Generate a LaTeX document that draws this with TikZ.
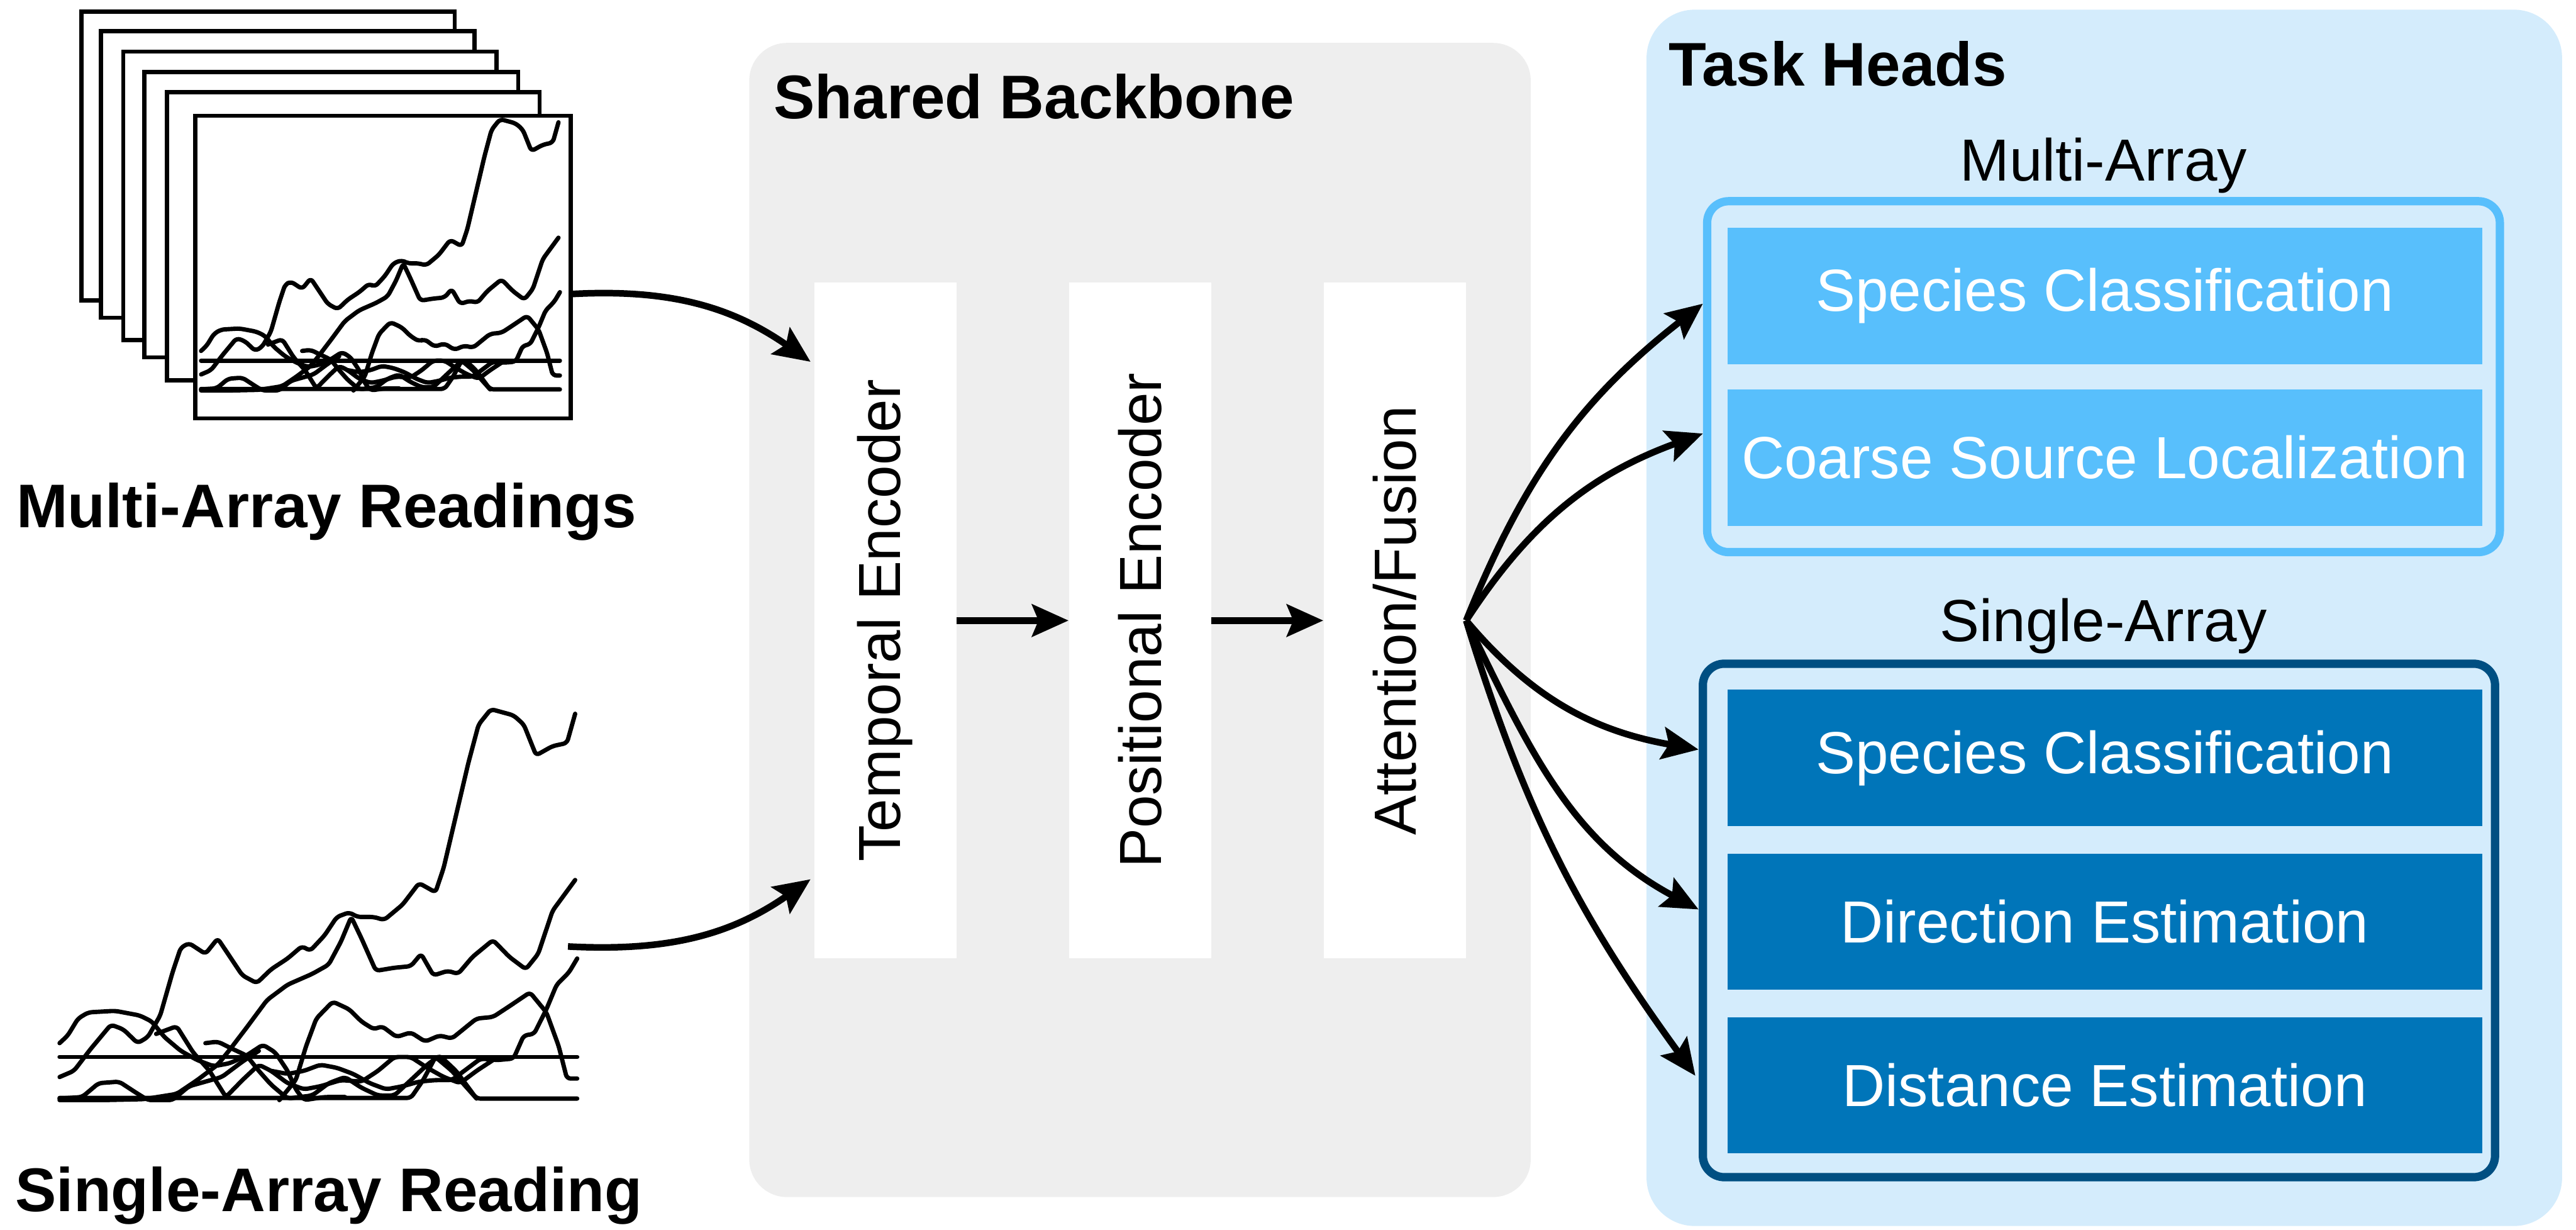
\documentclass[tikz,border=0pt]{standalone}
\usepackage{fontspec}
\usepackage{graphicx}
\setmainfont{Liberation Sans}
\usetikzlibrary{arrows.meta}

\definecolor{backbonegray}{HTML}{EEEEEE}
\definecolor{headbg}{HTML}{D4ECFC}
\definecolor{multiblue}{HTML}{58BFFC}
\definecolor{singleedge}{HTML}{004F82}
\definecolor{singleblue}{HTML}{0075B9}

\tikzset{
  lbl/.style={font=\fontsize{31.5}{36}\selectfont, inner sep=0pt},
  boldlbl/.style={font=\fontsize{32.7}{38}\selectfont\bfseries, inner sep=0pt},
  encoder/.style={fill=white, draw=none, minimum width=2.65cm, minimum height=12.59cm,
    inner sep=0pt, font=\fontsize{31.5}{36}\selectfont},
  headbox/.style={draw=none, minimum width=14.07cm, minimum height=2.54cm, inner sep=0pt,
    text=white, font=\fontsize{31.5}{36}\selectfont},
  groupbox/.style={fill=headbg, line width=4.4pt, rounded corners=0.4cm},
  flow/.style={line width=3.5pt, -{Stealth[length=0.68cm, width=0.6cm, inset=0.12cm]}},
  sheet/.style={draw=black, line width=2.2pt, fill=white},
  trace/.style={line width=2.3pt, line join=round, line cap=round, rounded corners=2pt},
}

% sensor traces, in local plot units (x right, y down)
\newcommand{\readingtraces}{%
  \draw[trace] (145,1255) -- (1405,1255);
  \draw[trace] (145,1388) -- (1000,1388) -- (1030,1330) -- (1060,1255) -- (1100,1300) -- (1160,1390);
  \draw[trace] (145,1320) -- (180,1300) -- (220,1230) -- (270,1150) -- (300,1165) -- (335,1210)
    -- (360,1190) -- (390,1120) -- (420,980) -- (440,900) -- (460,885) -- (500,920) -- (530,870)
    -- (560,930) -- (590,990) -- (625,1015) -- (660,970) -- (700,935) -- (735,895) -- (755,910)
    -- (790,860) -- (820,800) -- (850,785) -- (870,800) -- (910,800) -- (935,810) -- (980,760)
    -- (1020,690) -- (1060,720) -- (1080,640) -- (1110,470) -- (1140,300) -- (1165,175)
    -- (1195,125) -- (1250,145) -- (1275,175) -- (1305,275) -- (1345,245) -- (1380,235) -- (1400,140);
  \draw[trace] (145,1395) -- (250,1395) -- (350,1392) -- (430,1375) -- (480,1330) -- (530,1280)
    -- (560,1230) -- (600,1160) -- (650,1070) -- (700,1020) -- (760,985) -- (800,955) -- (830,880)
    -- (855,800) -- (880,870) -- (915,975) -- (960,965) -- (1000,960) -- (1025,920) -- (1055,990)
    -- (1090,975) -- (1115,985) -- (1150,930) -- (1200,875) -- (1240,930) -- (1280,970)
    -- (1310,920) -- (1345,780) -- (1400,680);
  \draw[trace] (680,1395) -- (720,1330) -- (745,1220) -- (770,1130) -- (810,1075) -- (850,1100)
    -- (880,1140) -- (910,1165) -- (930,1155) -- (965,1190) -- (1000,1175) -- (1035,1205)
    -- (1070,1185) -- (1100,1195) -- (1160,1130) -- (1200,1125) -- (1240,1090) -- (1290,1045)
    -- (1330,1110) -- (1360,1220) -- (1380,1325) -- (1405,1325);
  \draw[trace] (660,1300) -- (700,1310) -- (740,1300) -- (780,1280) -- (820,1290) -- (860,1310)
    -- (900,1340) -- (940,1360) -- (980,1350) -- (1020,1335) -- (1060,1330) -- (1100,1330)
    -- (1130,1300) -- (1170,1260) -- (1210,1265) -- (1250,1260) -- (1275,1185) -- (1300,1180)
    -- (1330,1100) -- (1355,1020) -- (1385,980) -- (1405,935);
  \draw[trace] (145,1210) -- (165,1185) -- (190,1130) -- (215,1110) -- (280,1105) -- (340,1120)
    -- (370,1140) -- (400,1190) -- (440,1235) -- (480,1265) -- (520,1285) -- (560,1275)
    -- (600,1250) -- (640,1215) -- (670,1240) -- (700,1300) -- (720,1360) -- (740,1395)
    -- (790,1385) -- (840,1385);
  \draw[trace] (145,1390) -- (200,1385) -- (240,1340) -- (290,1335) -- (330,1370) -- (360,1395)
    -- (420,1395) -- (460,1350) -- (500,1335) -- (540,1320) -- (590,1270) -- (630,1235);
  \draw[trace] (380,1180) -- (430,1155) -- (470,1240) -- (510,1300) -- (550,1385) -- (590,1330)
    -- (630,1280) -- (660,1300) -- (700,1340) -- (740,1360) -- (780,1350) -- (830,1330)
    -- (880,1335) -- (920,1300) -- (960,1255) -- (1000,1255) -- (1040,1290) -- (1080,1320)
    -- (1120,1340) -- (1160,1300) -- (1200,1265);
  \draw[trace] (500,1210) -- (530,1205) -- (560,1225) -- (600,1250) -- (630,1300) -- (660,1345)
    -- (700,1390) -- (760,1380) -- (800,1340) -- (840,1320) -- (880,1355) -- (920,1380)
    -- (960,1380) -- (1000,1330) -- (1040,1280) -- (1070,1250) -- (1110,1300) -- (1160,1390)
    -- (1405,1390);
}

\begin{document}
\begin{tikzpicture}
\useasboundingbox (0,0) rectangle (48.03,-22.92);

% ---------- input: stack of multi-array readings ----------
\draw[sheet] (1.52,-0.22) rectangle (8.48,-5.60);
\draw[sheet] (1.88,-0.58) rectangle (8.85,-5.92);
\draw[sheet] (2.30,-0.96) rectangle (9.26,-6.34);
\draw[sheet] (2.69,-1.34) rectangle (9.66,-6.66);
\draw[sheet] (3.11,-1.72) rectangle (10.06,-7.09);
\node[sheet, anchor=north west, minimum width=7cm, minimum height=5.64cm, inner sep=0pt]
  (mframe) at (3.60,-2.12) {};
\begin{scope}[shift={(2.979,-1.722)}, x=0.005317cm, y=-0.003984cm]
  \readingtraces
\end{scope}
\node[boldlbl, anchor=base west] (mlabel) at (0.30,-9.83) {Multi-Array Readings};

% ---------- input: single-array reading ----------
\begin{scope}[shift={(0,-12.5)}, x=0.007653cm, y=-0.005741cm]
  \readingtraces
\end{scope}
\coordinate (sread) at (10.59,-17.64);
\node[boldlbl, anchor=base west] (slabel) at (0.28,-22.58) {Single-Array Reading};

% ---------- shared backbone ----------
\fill[backbonegray, rounded corners=0.7cm] (13.97,-0.80) rectangle (28.54,-22.31);
\node[boldlbl, anchor=base west] (bbtitle) at (14.42,-2.21) {Shared Backbone};

\node[encoder] (te) at (16.505,-11.565) {\rotatebox{90}{Temporal Encoder}};
\node[encoder] (pe) at (21.255,-11.565) {\rotatebox{90}{Positional Encoder}};
\node[encoder] (af) at (26.005,-11.565) {\rotatebox{90}{Attention/Fusion}};

\draw[flow] (te.east) -- (pe.west);
\draw[flow] (pe.east) -- (af.west);

\draw[flow] ([yshift=-0.5cm]mframe.east) to[out=3, in=145]
  ([shift={(-0.06,-1.48)}]te.north west);
\draw[flow] (sread) to[out=-3, in=-145]
  ([shift={(-0.06,1.48)}]te.south west);

% ---------- task heads ----------
\fill[headbg, rounded corners=0.9cm] (30.70,-0.18) rectangle (47.77,-22.85);
\node[boldlbl, anchor=base west] (thtitle) at (31.11,-1.60) {Task Heads};

\node[lbl, anchor=base] (multititle) at (39.22,-3.37) {Multi-Array};
\draw[groupbox, draw=multiblue] (31.83,-3.75) rectangle (46.61,-10.29);
\node[headbox, fill=multiblue, anchor=north west] (mspec) at (32.20,-4.24) {Species Classification};
\node[headbox, fill=multiblue, anchor=north west] (mloc) at (32.20,-7.25) {Coarse Source Localization};

\node[lbl, anchor=base] (singletitle) at (39.22,-11.95) {Single-Array};
\draw[groupbox, draw=singleedge] (31.75,-12.37) rectangle (46.52,-21.94);
\node[headbox, fill=singleblue, anchor=north west] (sspec) at (32.20,-12.85) {Species Classification};
\node[headbox, fill=singleblue, anchor=north west] (sdir) at (32.20,-15.90) {Direction Estimation};
\node[headbox, fill=singleblue, anchor=north west] (sdist) at (32.20,-18.95) {Distance Estimation};

% arrow tips rest on the group borders
\coordinate (t1) at (31.75,-5.66);
\coordinate (t2) at (31.75,-8.08);
\coordinate (t3) at (31.67,-13.97);
\coordinate (t4) at (31.67,-16.95);
\coordinate (t5) at (31.61,-20.05);

\draw[flow] (af.east) to[out=68, in=-142] (t1);
\draw[flow] (af.east) to[out=57, in=-160] (t2);
\draw[flow] (af.east) to[out=-50, in=170] (t3);
\draw[flow] (af.east) to[out=-64, in=152] (t4);
\draw[flow] (af.east) to[out=-73, in=126] (t5);

\end{tikzpicture}
\end{document}
